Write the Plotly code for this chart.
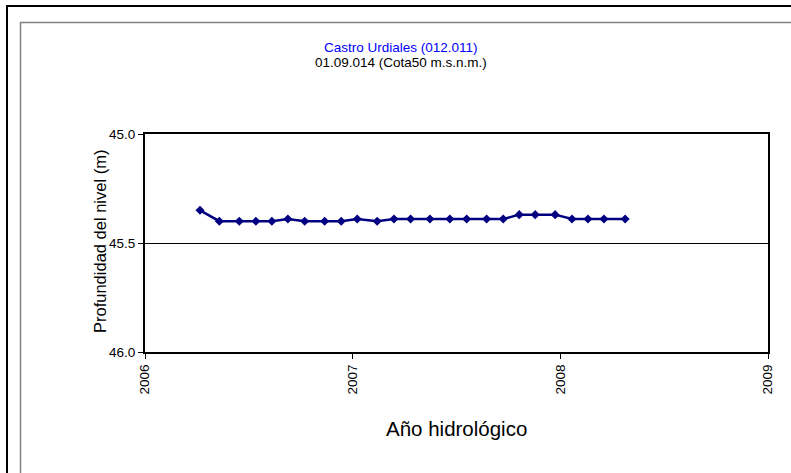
import plotly.graph_objects as go

# Data (decimal year, depth in m)
fechas = [2006.265, 2006.358, 2006.454, 2006.534, 2006.611, 2006.688, 2006.769,
          2006.865, 2006.945, 2007.022, 2007.118, 2007.199, 2007.279, 2007.372,
          2007.468, 2007.549, 2007.645, 2007.725, 2007.802, 2007.879, 2007.975,
          2008.056, 2008.133, 2008.210, 2008.312]
profundidad = [45.35, 45.40, 45.40, 45.40, 45.40, 45.39, 45.40, 45.40, 45.40,
               45.39, 45.40, 45.39, 45.39, 45.39, 45.39, 45.39, 45.39, 45.39,
               45.37, 45.37, 45.37, 45.39, 45.39, 45.39, 45.39]
x_ticks = [2006, 2007, 2008, 2009]
y_ticks = [45.0, 45.5, 46.0]

W, H = 791, 473
L, R, T, B = 145, 768, 134, 352
FONT = "Liberation Sans, Arial, sans-serif"


def px(x):
    return (x - L) / (R - L)


def py(y):
    return (B - y) / (B - T)


fig = go.Figure()
fig.add_trace(go.Scatter(
    x=fechas, y=profundidad, mode="lines+markers",
    line=dict(color="#000080", width=2.5),
    marker=dict(symbol="diamond", size=7, color="#000080"),
    showlegend=False, hoverinfo="x+y",
))

shapes = [
    # outer black frame (left/top)
    dict(type="line", xref="paper", yref="paper", x0=px(7), x1=px(7), y0=py(5), y1=py(H),
         line=dict(color="black", width=2)),
    dict(type="line", xref="paper", yref="paper", x0=px(6), x1=px(W), y0=py(6), y1=py(6),
         line=dict(color="black", width=2)),
    # inner gray frame
    dict(type="line", xref="paper", yref="paper", x0=px(20.5), x1=px(20.5), y0=py(22), y1=py(H),
         line=dict(color="#808080", width=1.5)),
    dict(type="line", xref="paper", yref="paper", x0=px(20), x1=px(W), y0=py(22.5), y1=py(22.5),
         line=dict(color="#808080", width=1.5)),
]

annotations = [
    dict(text="Castro Urdiales (012.011)", xref="paper", yref="paper",
         x=px(401), y=py(47), showarrow=False, xanchor="center", yanchor="middle",
         font=dict(family=FONT, size=13.5, color="#0000FF")),
    dict(text="01.09.014 (Cota50 m.s.n.m.)", xref="paper", yref="paper",
         x=px(401), y=py(62), showarrow=False, xanchor="center", yanchor="middle",
         font=dict(family=FONT, size=13.5, color="black")),
    dict(text="Año hidrológico", xref="paper", yref="paper",
         x=px(456), y=py(428), showarrow=False, xanchor="center", yanchor="middle",
         font=dict(family=FONT, size=20.5, color="black")),
    dict(text="Profundidad del nivel (m)", xref="paper", yref="paper",
         x=px(100), y=py(242), showarrow=False, xanchor="center", yanchor="middle",
         textangle=-90, font=dict(family=FONT, size=16.5, color="black")),
]

fig.update_layout(
    width=W, height=H,
    margin=dict(l=L, r=W - R, t=T, b=H - B),
    paper_bgcolor="white", plot_bgcolor="white",
    font=dict(family=FONT, color="black"),
    shapes=shapes, annotations=annotations,
    xaxis=dict(
        range=[2006, 2009], tickvals=x_ticks, ticktext=[str(v) for v in x_ticks],
        tickangle=-90, ticks="outside", ticklen=5, tickcolor="black",
        showline=True, mirror=True, linecolor="black", linewidth=2,
        showgrid=False, zeroline=False,
        tickfont=dict(family=FONT, size=13.5, color="black"),
    ),
    yaxis=dict(
        range=[46, 45], tickvals=y_ticks, ticktext=["%.1f" % v for v in y_ticks],
        ticks="outside", ticklen=5, tickcolor="black",
        showline=True, mirror=True, linecolor="black", linewidth=2,
        showgrid=True, gridcolor="black", gridwidth=1, zeroline=False,
        tickfont=dict(family=FONT, size=13.5, color="black"),
    ),
)

fig.write_html("out.html", config={"displayModeBar": False},
               post_script="document.body.style.margin='0px';document.body.style.overflow='hidden';")
